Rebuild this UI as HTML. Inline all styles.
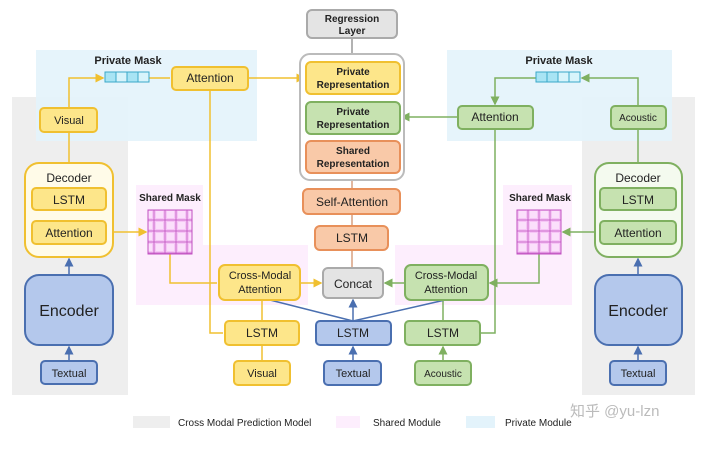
<!DOCTYPE html>
<html><head><meta charset="utf-8"><style>
body{margin:0;background:#fff}
svg text{font-family:"Liberation Sans","Noto Sans CJK SC",sans-serif}
</style></head><body>
<svg width="720" height="444" viewBox="0 0 720 444" xmlns="http://www.w3.org/2000/svg">
<defs>
<marker id="ay" markerWidth="6" markerHeight="6" refX="5" refY="3" orient="auto"><path d="M0,0L6,3L0,6z" fill="#f0c030"/></marker>
<marker id="ag" markerWidth="6" markerHeight="6" refX="5" refY="3" orient="auto"><path d="M0,0L6,3L0,6z" fill="#7fb060"/></marker>
<marker id="ab" markerWidth="6" markerHeight="6" refX="5" refY="3" orient="auto"><path d="M0,0L6,3L0,6z" fill="#4a6fb0"/></marker>
<marker id="ao" markerWidth="6" markerHeight="6" refX="5" refY="3" orient="auto"><path d="M0,0L6,3L0,6z" fill="#d9a080"/></marker>
<pattern id="grid" width="11" height="11" patternUnits="userSpaceOnUse"><rect width="11" height="11" fill="#f6c6f6" stroke="#c050c0" stroke-width="0.8"/><rect x="2" y="2" width="7" height="7" fill="#fbe0fb"/></pattern>
</defs>
<!-- regions -->
<rect x="12" y="97" width="116" height="298" fill="#eeeeee"/>
<rect x="582" y="97" width="113" height="298" fill="#eeeeee"/>
<rect x="36" y="50" width="221" height="91" fill="#e3f3fb" opacity="0.9"/>
<rect x="447" y="50" width="225" height="91" fill="#e3f3fb" opacity="0.9"/>
<rect x="136" y="185" width="67" height="120" fill="#fdeefd"/>
<rect x="203" y="245" width="105" height="60" fill="#fdeefd"/>
<rect x="503" y="185" width="69" height="120" fill="#fdeefd"/>
<rect x="395" y="245" width="108" height="60" fill="#fdeefd"/>

<!-- lines -->
<g fill="none" stroke-width="1.5">
<path d="M69,108V78H103" stroke="#f0c030" marker-end="url(#ay)"/>
<path d="M149,78H170" stroke="#f0c030"/>
<path d="M248,78H304" stroke="#f0c030" marker-end="url(#ay)"/>
<path d="M69,132V163" stroke="#f0c030"/>
<path d="M210,90V333H223" stroke="#f0c030"/>
<path d="M106,232H146" stroke="#f0c030" marker-end="url(#ay)"/>
<path d="M170,254V283H217" stroke="#f0c030"/>
<path d="M300,283H321" stroke="#f0c030" marker-end="url(#ay)"/>
<path d="M262,300V321" stroke="#f0c030"/>
<path d="M262,361V345" stroke="#f0c030"/>
<path d="M638,106V78H582" stroke="#7fb060" marker-end="url(#ag)"/>
<path d="M536,78H495V104" stroke="#7fb060" marker-end="url(#ag)"/>
<path d="M458,117H402" stroke="#7fb060" marker-end="url(#ag)"/>
<path d="M638,163V129" stroke="#7fb060"/>
<path d="M495,129V333H480" stroke="#7fb060"/>
<path d="M600,232H563" stroke="#7fb060" marker-end="url(#ag)"/>
<path d="M539,254V283H490" stroke="#7fb060" marker-end="url(#ag)"/>
<path d="M405,283H385" stroke="#7fb060" marker-end="url(#ag)"/>
<path d="M443,300V321" stroke="#7fb060"/>
<path d="M443,361V347" stroke="#7fb060" marker-end="url(#ag)"/>
<path d="M352,38V54" stroke="#999"/>
<path d="M352,180V189" stroke="#d9a080"/>
<path d="M352,214V226" stroke="#d9a080"/>
<path d="M352,250V268" stroke="#d9a080"/>
<path d="M353,321V300" stroke="#4a6fb0" marker-end="url(#ab)"/>
<path d="M353,321L270,300M353,321L445,300" stroke="#4a6fb0"/>
<path d="M353,361V347" stroke="#4a6fb0" marker-end="url(#ab)"/>
<path d="M69,361V347" stroke="#4a6fb0" marker-end="url(#ab)"/>
<path d="M69,275V259" stroke="#4a6fb0" marker-end="url(#ab)"/>
<path d="M638,361V347" stroke="#4a6fb0" marker-end="url(#ab)"/>
<path d="M638,275V259" stroke="#4a6fb0" marker-end="url(#ab)"/>
</g>

<!-- masks -->
<g stroke="#3aa8c8" stroke-width="1" fill="#a8e4f4">
<rect x="105" y="72" width="11" height="10"/><rect x="116" y="72" width="11" height="10" fill="#d8f4fb"/><rect x="127" y="72" width="11" height="10"/><rect x="138" y="72" width="11" height="10" fill="#d8f4fb"/>
<rect x="536" y="72" width="11" height="10"/><rect x="547" y="72" width="11" height="10"/><rect x="558" y="72" width="11" height="10" fill="#d8f4fb"/><rect x="569" y="72" width="11" height="10" fill="#d8f4fb"/>
</g>
<rect x="148" y="210" width="44" height="44" fill="url(#grid)" stroke="#c050c0"/>
<rect x="517" y="210" width="44" height="44" fill="url(#grid)" stroke="#c050c0"/>

<!-- boxes -->
<g stroke-width="2">
<rect x="307" y="10" width="90" height="28" rx="5" fill="#e4e4e4" stroke="#aaa"/>
<rect x="300" y="54" width="104" height="126" rx="10" fill="#fff" stroke="#bbb"/>
<rect x="306" y="62" width="94" height="32" rx="5" fill="#fde68a" stroke="#f0c030"/>
<rect x="306" y="102" width="94" height="32" rx="5" fill="#c6e2b0" stroke="#7fb060"/>
<rect x="306" y="141" width="94" height="32" rx="5" fill="#f9c9a8" stroke="#e8905a"/>
<rect x="303" y="189" width="97" height="25" rx="5" fill="#f9c9a8" stroke="#e8905a"/>
<rect x="315" y="226" width="73" height="24" rx="5" fill="#f9c9a8" stroke="#e8905a"/>
<rect x="323" y="268" width="60" height="30" rx="5" fill="#e4e4e4" stroke="#aaa"/>
<rect x="316" y="321" width="75" height="24" rx="4" fill="#b4c8ec" stroke="#4a6fb0"/>
<rect x="324" y="361" width="57" height="24" rx="4" fill="#b4c8ec" stroke="#4a6fb0"/>

<rect x="172" y="67" width="76" height="23" rx="4" fill="#fde68a" stroke="#f0c030"/>
<rect x="40" y="108" width="57" height="24" rx="4" fill="#fde68a" stroke="#f0c030"/>
<rect x="25" y="163" width="88" height="94" rx="14" fill="#fffbe8" stroke="#f0c030"/>
<rect x="32" y="188" width="74" height="22" rx="4" fill="#fde68a" stroke="#f0c030"/>
<rect x="32" y="221" width="74" height="23" rx="4" fill="#fde68a" stroke="#f0c030"/>
<rect x="25" y="275" width="88" height="70" rx="14" fill="#b4c8ec" stroke="#4a6fb0"/>
<rect x="41" y="361" width="56" height="23" rx="4" fill="#b4c8ec" stroke="#4a6fb0"/>
<rect x="219" y="265" width="81" height="35" rx="6" fill="#fde68a" stroke="#f0c030"/>
<rect x="225" y="321" width="74" height="24" rx="4" fill="#fde68a" stroke="#f0c030"/>
<rect x="234" y="361" width="56" height="24" rx="4" fill="#fde68a" stroke="#f0c030"/>

<rect x="458" y="106" width="75" height="23" rx="4" fill="#c6e2b0" stroke="#7fb060"/>
<rect x="611" y="106" width="55" height="23" rx="4" fill="#c6e2b0" stroke="#7fb060"/>
<rect x="595" y="163" width="87" height="94" rx="14" fill="#f4faef" stroke="#7fb060"/>
<rect x="600" y="188" width="76" height="22" rx="4" fill="#c6e2b0" stroke="#7fb060"/>
<rect x="600" y="221" width="76" height="23" rx="4" fill="#c6e2b0" stroke="#7fb060"/>
<rect x="595" y="275" width="87" height="70" rx="14" fill="#b4c8ec" stroke="#4a6fb0"/>
<rect x="610" y="361" width="56" height="24" rx="4" fill="#b4c8ec" stroke="#4a6fb0"/>
<rect x="405" y="265" width="83" height="35" rx="6" fill="#c6e2b0" stroke="#7fb060"/>
<rect x="405" y="321" width="75" height="24" rx="4" fill="#c6e2b0" stroke="#7fb060"/>
<rect x="415" y="361" width="56" height="24" rx="4" fill="#c6e2b0" stroke="#7fb060"/>
</g>

<!-- text -->
<g font-size="11" fill="#222" text-anchor="middle">
<text x="352" y="22" font-weight="bold" font-size="10">Regression</text><text x="352" y="34" font-weight="bold" font-size="10">Layer</text>
<text x="353" y="75" font-weight="bold" font-size="10">Private</text><text x="353" y="88" font-weight="bold" font-size="10">Representation</text>
<text x="353" y="115" font-weight="bold" font-size="10">Private</text><text x="353" y="128" font-weight="bold" font-size="10">Representation</text>
<text x="353" y="154" font-weight="bold" font-size="10">Shared</text><text x="353" y="167" font-weight="bold" font-size="10">Representation</text>
<text x="352" y="206" font-size="12">Self-Attention</text>
<text x="352" y="242" font-size="12">LSTM</text>
<text x="353" y="288" font-size="12">Concat</text>
<text x="353" y="337" font-size="12">LSTM</text>
<text x="353" y="377" font-size="11">Textual</text>
<text x="128" y="64" font-weight="bold" font-size="11">Private Mask</text>
<text x="210" y="82" font-size="12">Attention</text>
<text x="69" y="124" font-size="11">Visual</text>
<text x="69" y="182" font-size="12">Decoder</text>
<text x="69" y="204" font-size="12">LSTM</text>
<text x="69" y="237" font-size="12">Attention</text>
<text x="69" y="316" font-size="16">Encoder</text>
<text x="69" y="377" font-size="11">Textual</text>
<text x="170" y="201" font-weight="bold" font-size="10">Shared Mask</text>
<text x="260" y="279" font-size="11">Cross-Modal</text><text x="260" y="293" font-size="11">Attention</text>
<text x="262" y="337" font-size="12">LSTM</text>
<text x="262" y="377" font-size="11">Visual</text>
<text x="559" y="64" font-weight="bold" font-size="11">Private Mask</text>
<text x="495" y="121" font-size="12">Attention</text>
<text x="638" y="121" font-size="10">Acoustic</text>
<text x="638" y="182" font-size="12">Decoder</text>
<text x="638" y="204" font-size="12">LSTM</text>
<text x="638" y="237" font-size="12">Attention</text>
<text x="638" y="316" font-size="16">Encoder</text>
<text x="638" y="377" font-size="11">Textual</text>
<text x="540" y="201" font-weight="bold" font-size="10">Shared Mask</text>
<text x="446" y="279" font-size="11">Cross-Modal</text><text x="446" y="293" font-size="11">Attention</text>
<text x="443" y="337" font-size="12">LSTM</text>
<text x="443" y="377" font-size="10">Acoustic</text>
</g>
<!-- legend -->
<rect x="133" y="416" width="37" height="12" fill="#eeeeee"/>
<rect x="336" y="416" width="24" height="12" fill="#fdeefd"/>
<rect x="466" y="416" width="29" height="12" fill="#e3f3fb"/>
<g font-size="10" fill="#222">
<text x="178" y="426">Cross Modal Prediction Model</text>
<text x="373" y="426">Shared Module</text>
<text x="505" y="426">Private Module</text>
</g>
<text x="570" y="416" font-size="15" fill="#bbb">知乎 @yu-lzn</text>
</svg>
</body></html>
